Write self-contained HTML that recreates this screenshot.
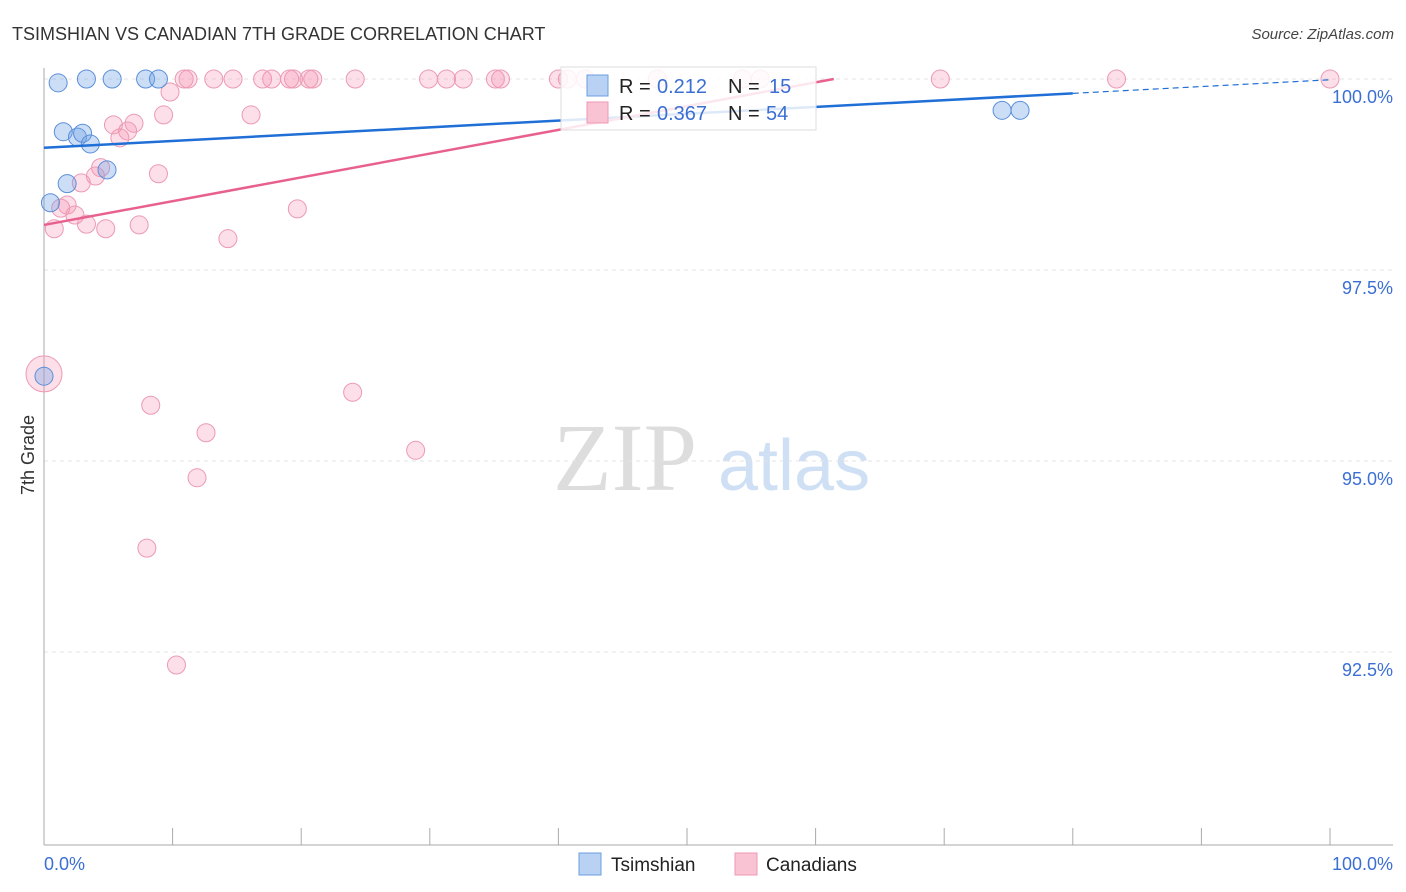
<!DOCTYPE html>
<html><head><meta charset="utf-8"><style>
body{margin:0;background:#fff;font-family:"Liberation Sans",sans-serif;}
svg{display:block}
</style></head><body>
<svg id="chart" width="1406" height="892" font-family="Liberation Sans, sans-serif">
<text x="12" y="40" font-size="18" fill="#333">TSIMSHIAN VS CANADIAN 7TH GRADE CORRELATION CHART</text>
<text x="1394" y="39" font-size="15" fill="#444" font-style="italic" text-anchor="end">Source: ZipAtlas.com</text>
<g>
<text x="553" y="490" font-size="96" font-family="Liberation Serif, serif" fill="#ddd">ZIP</text>
<text x="718" y="490" font-size="72" fill="#cfe0f5">atlas</text>
</g>
<g id="grid"></g>
<g id="axes"></g>
<g id="marks"></g>
<text transform="translate(34,455) rotate(-90)" font-size="18" fill="#333" text-anchor="middle">7th Grade</text>
<g>
<rect x="561" y="67" width="255" height="63" fill="#fff" fill-opacity="0.85" stroke="#ddd"/>
<rect x="587" y="75" width="21" height="21" fill="#b9d1f3" stroke="#6c9ee0"/>
<rect x="587" y="102" width="21" height="21" fill="#f9c3d3" stroke="#ee9ab5"/>
<g font-size="20" fill="#222">
<text x="619" y="93">R =</text><text x="657" y="93" fill="#3b6fd4">0.212</text>
<text x="728" y="93">N =</text><text x="769" y="93" fill="#3b6fd4">15</text>
<text x="619" y="120">R =</text><text x="657" y="120" fill="#3b6fd4">0.367</text>
<text x="728" y="120">N =</text><text x="766" y="120" fill="#3b6fd4">54</text>
</g></g>
<g>
<rect x="579" y="853" width="22" height="22" fill="#b9d1f3" stroke="#6c9ee0"/>
<text x="611" y="871" font-size="19" fill="#222">Tsimshian</text>
<rect x="735" y="853" width="22" height="22" fill="#f9c3d3" stroke="#ee9ab5"/>
<text x="766" y="871" font-size="19" fill="#222">Canadians</text>
</g>
</svg>
<script>
const yTicks=[100,97.5,95,92.5];
const yTickLabels=["100.0%","97.5%","95.0%","92.5%"];
const xTickCount=10;
const blueX=[1.1,3.3,5.3,7.9,8.9,1.5,2.6,3.0,3.6,4.9,1.8,0.5,0,74.5,75.9];
const blueY=[99.95,100,100,100,100,99.31,99.24,99.29,99.15,98.81,98.63,98.38,96.11,99.59,99.59];
const pinkX=[10.9,11.2,13.2,14.7,17.0,17.7,19.1,19.4,20.6,20.9,24.2,29.9,31.3,32.6,35.1,35.5,40.0,40.7,42.1,47.7,54.3,55.7,69.7,83.4,100,
9.8,9.3,16.1,7.0,5.4,6.5,5.9,4.4,4.0,8.9,2.9,1.8,1.3,2.4,3.3,0.8,4.8,7.4,19.7,14.3,0,8.3,24.0,12.6,28.9,11.9,8.0,10.3];
const pinkY=[100,100,100,100,100,100,100,100,100,100,100,100,100,100,100,100,100,100,100,100,100,100,100,100,100,
99.83,99.53,99.53,99.42,99.40,99.32,99.23,98.84,98.73,98.76,98.64,98.35,98.31,98.22,98.10,98.04,98.04,98.09,98.30,97.91,96.14,95.73,95.90,95.37,95.14,94.78,93.86,92.33];
const pinkSize=pinkX.map((v,i)=>i===45?18:9);
const blueTrend=[99.10,99.99];
const pinkTrend=[98.09,101.2];
const NS="http://www.w3.org/2000/svg";
const xs=v=>44+v*12.86;
const ys=v=>79+(100-v)*76.4;
function mk(t,a,p){const e=document.createElementNS(NS,t);for(const k in a)e.setAttribute(k,a[k]);p.appendChild(e);return e;}
const grid=document.getElementById('grid'),axes=document.getElementById('axes'),marks=document.getElementById('marks');
yTicks.forEach((t,i)=>{
 const l=mk('line',{x1:44,x2:1393,y1:ys(t),y2:ys(t),stroke:'#e3e3e3','stroke-dasharray':'4,4'},grid);
 
 
 const tx=mk('text',{x:1393,y:ys(t)+24,'font-size':18,fill:'#3b6fd4','text-anchor':'end'},axes);
 tx.textContent=yTickLabels[i];
 
 
});
const ya=mk('line',{x1:44,x2:44,y1:68,y2:845,stroke:'#aaa'},axes);


const xa=mk('line',{x1:44,x2:1393,y1:845,y2:845,stroke:'#aaa'},axes);


for(let i=0;i<=xTickCount;i++){const v=i*100/xTickCount;
 const t=mk('line',{x1:xs(v),x2:xs(v),y1:828,y2:845,stroke:'#aaa'},axes);
 
 }
const x0=mk('text',{x:44,y:870,'font-size':18,fill:'#3b6fd4'},axes);x0.textContent='0.0%';


const x1=mk('text',{x:1393,y:870,'font-size':18,fill:'#3b6fd4','text-anchor':'end'},axes);x1.textContent='100.0%';


pinkX.forEach((x,i)=>{const c=mk('circle',{cx:xs(x),cy:ys(pinkY[i]),r:pinkSize[i],fill:'rgba(244,150,180,0.3)',stroke:'#ec9ab4','stroke-width':1},marks);
 
 });
blueX.forEach((x,i)=>{const c=mk('circle',{cx:xs(x),cy:ys(blueY[i]),r:9,fill:'rgba(110,160,230,0.35)',stroke:'#5b8fd8','stroke-width':1},marks);
 
 });
const bAt=v=>blueTrend[0]+(blueTrend[1]-blueTrend[0])*v/100;
const b1=mk('line',{x1:xs(0),y1:ys(bAt(0)),x2:xs(80),y2:ys(bAt(80)),stroke:'#1f6fd6','stroke-width':2.5},marks);


const b2=mk('line',{x1:xs(80),y1:ys(bAt(80)),x2:xs(100),y2:ys(bAt(100)),stroke:'#1f6fd6','stroke-width':1.2,'stroke-dasharray':'6,4'},marks);


const pEnd=Math.min(100,(100-pinkTrend[0])/(pinkTrend[1]-pinkTrend[0])*100);
const pAt=v=>pinkTrend[0]+(pinkTrend[1]-pinkTrend[0])*v/100;
const p1=mk('line',{x1:xs(0),y1:ys(pAt(0)),x2:xs(pEnd),y2:ys(pAt(pEnd)),stroke:'#e8608f','stroke-width':2.5},marks);


</script>
</body></html>
